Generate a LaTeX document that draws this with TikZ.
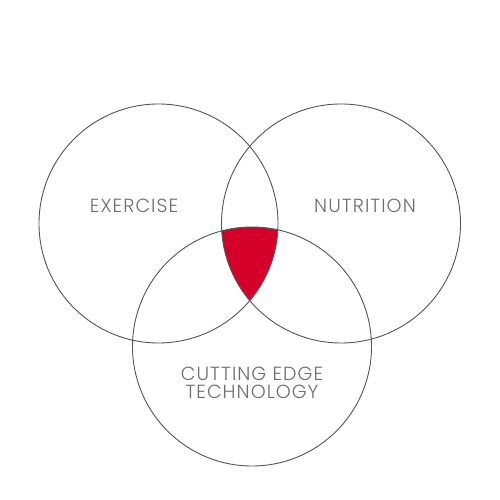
\documentclass[tikz,border=0pt]{standalone}
\usepackage{fontspec}
\setmainfont{Poppins}[UprightFont={* Light},LetterSpace=5.5]
\begin{document}
\begin{tikzpicture}[x=1pt,y=1pt,
  ring/.style={draw={rgb,255:red,85;green,85;blue,85},line width=0.9pt},
  lbl/.style={text={rgb,255:red,110;green,110;blue,110},font=\fontsize{19}{18}\selectfont,align=center,inner sep=0pt}]
\definecolor{hot}{RGB}{212,0,42}
\useasboundingbox (0,0) rectangle (500,500);
\coordinate (cl) at (158.5,276.5);
\coordinate (cr) at (341,276.5);
\coordinate (cb) at (252,153.5);
\begin{scope}
  \clip (cl) circle (119.5);
  \clip (cr) circle (119.5);
  \fill[hot] (cb) circle (119.5);
\end{scope}
\draw[ring] (cl) circle (119.5);
\draw[ring] (cr) circle (119.5);
\draw[ring] (cb) circle (119.5);
\node[lbl] (ex) at (134,294) {EXERCISE};
\node[lbl] (nu) at (365,294) {NUTRITION};
\node[lbl] (ct) at (252,117.5) {CUTTING EDGE\\TECHNOLOGY};
\end{tikzpicture}
\end{document}
